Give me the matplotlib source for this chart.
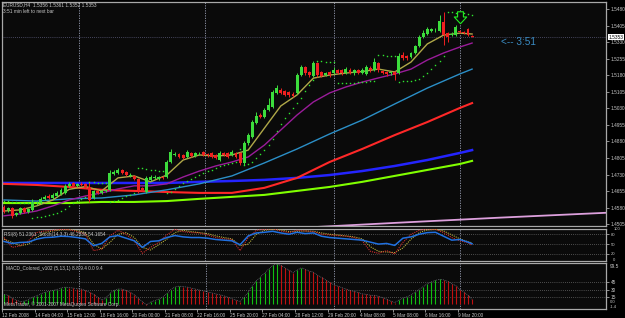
import matplotlib
matplotlib.use("Agg")
import matplotlib.pyplot as plt
import matplotlib.transforms as mtransforms
from matplotlib.path import Path
import numpy as np

plt.rcParams['font.family'] = ['Liberation Sans', 'DejaVu Sans']

W, H = 625, 318

# ---------------- data ----------------
symbol = "EURUSD,H4"
opens = [1.4583, 1.4570, 1.4579, 1.4547, 1.4556, 1.4579, 1.4561, 1.4570, 1.4601, 1.4601,
         1.4620, 1.4633, 1.4624, 1.4633, 1.4642, 1.4647, 1.4679, 1.4692, 1.4679, 1.4688,
         1.4688, 1.4674, 1.4624, 1.4656, 1.4647, 1.4656, 1.4661, 1.4733, 1.4737, 1.4751,
         1.4742, 1.4724, 1.4724, 1.4710, 1.4670, 1.4651, 1.4706, 1.4715, 1.4710, 1.4719,
         1.4719, 1.4787, 1.4819, 1.4823, 1.4819, 1.4810, 1.4828, 1.4814, 1.4823, 1.4832,
         1.4823, 1.4828, 1.4819, 1.4796, 1.4828, 1.4828, 1.4819, 1.4828, 1.4828, 1.4783,
         1.4873, 1.4900, 1.4964, 1.5000, 1.4991, 1.5023, 1.5036, 1.5100, 1.5113, 1.5109,
         1.5104, 1.5095, 1.5100, 1.5181, 1.5217, 1.5195, 1.5177, 1.5236, 1.5195, 1.5181,
         1.5195, 1.5190, 1.5204, 1.5204, 1.5190, 1.5204, 1.5190, 1.5204, 1.5190, 1.5186,
         1.5213, 1.5204, 1.5236, 1.5199, 1.5195, 1.5190, 1.5195, 1.5190, 1.5272, 1.5267,
         1.5263, 1.5281, 1.5312, 1.5353, 1.5367, 1.5381, 1.5385, 1.5381, 1.5421, 1.5371,
         1.5362, 1.5362, 1.5381, 1.5376, 1.5390, 1.5356]
highs = [1.4592, 1.4583, 1.4583, 1.4561, 1.4583, 1.4583, 1.4579, 1.4620, 1.4610, 1.4629,
         1.4638, 1.4642, 1.4647, 1.4656, 1.4670, 1.4688, 1.4697, 1.4697, 1.4692, 1.4697,
         1.4692, 1.4697, 1.4661, 1.4661, 1.4661, 1.4665, 1.4751, 1.4751, 1.4760, 1.4755,
         1.4746, 1.4737, 1.4728, 1.4715, 1.4674, 1.4724, 1.4728, 1.4728, 1.4724, 1.4724,
         1.4796, 1.4846, 1.4832, 1.4828, 1.4823, 1.4841, 1.4832, 1.4832, 1.4832, 1.4837,
         1.4828, 1.4832, 1.4823, 1.4837, 1.4832, 1.4832, 1.4841, 1.4832, 1.4832, 1.4882,
         1.4918, 1.4977, 1.5014, 1.5009, 1.5032, 1.5077, 1.5113, 1.5136, 1.5122, 1.5113,
         1.5109, 1.5104, 1.5190, 1.5226, 1.5222, 1.5199, 1.5245, 1.5240, 1.5199, 1.5195,
         1.5199, 1.5217, 1.5208, 1.5208, 1.5217, 1.5213, 1.5208, 1.5208, 1.5213, 1.5226,
         1.5222, 1.5258, 1.5240, 1.5204, 1.5199, 1.5199, 1.5199, 1.5281, 1.5285, 1.5272,
         1.5285, 1.5317, 1.5362, 1.5385, 1.5399, 1.5394, 1.5394, 1.5453, 1.5466, 1.5376,
         1.5376, 1.5408, 1.5385, 1.5381, 1.5394, 1.5361]
lows = [1.4556, 1.4561, 1.4534, 1.4543, 1.4552, 1.4556, 1.4556, 1.4565, 1.4592, 1.4597,
        1.4615, 1.4620, 1.4620, 1.4629, 1.4638, 1.4642, 1.4674, 1.4674, 1.4674, 1.4679,
        1.4670, 1.4606, 1.4620, 1.4642, 1.4642, 1.4651, 1.4656, 1.4728, 1.4733, 1.4733,
        1.4724, 1.4719, 1.4706, 1.4647, 1.4656, 1.4647, 1.4701, 1.4710, 1.4706, 1.4710,
        1.4715, 1.4783, 1.4814, 1.4805, 1.4801, 1.4805, 1.4810, 1.4810, 1.4819, 1.4814,
        1.4810, 1.4805, 1.4801, 1.4792, 1.4814, 1.4805, 1.4814, 1.4805, 1.4774, 1.4774,
        1.4864, 1.4896, 1.4959, 1.4987, 1.4987, 1.5018, 1.5032, 1.5095, 1.5095, 1.5086,
        1.5082, 1.5082, 1.5095, 1.5177, 1.5181, 1.5172, 1.5172, 1.5172, 1.5172, 1.5177,
        1.5172, 1.5186, 1.5186, 1.5181, 1.5186, 1.5186, 1.5181, 1.5186, 1.5186, 1.5181,
        1.5195, 1.5199, 1.5195, 1.5186, 1.5177, 1.5181, 1.5158, 1.5186, 1.5249, 1.5249,
        1.5258, 1.5276, 1.5308, 1.5349, 1.5362, 1.5376, 1.5376, 1.5376, 1.5317, 1.5331,
        1.5358, 1.5358, 1.5371, 1.5367, 1.5358, 1.5352]
closes = [1.4561, 1.4579, 1.4543, 1.4556, 1.4579, 1.4561, 1.4574, 1.4606, 1.4603, 1.4620,
          1.4629, 1.4624, 1.4638, 1.4647, 1.4661, 1.4679, 1.4688, 1.4679, 1.4688, 1.4683,
          1.4674, 1.4615, 1.4656, 1.4647, 1.4656, 1.4658, 1.4737, 1.4742, 1.4751, 1.4737,
          1.4728, 1.4728, 1.4710, 1.4661, 1.4661, 1.4715, 1.4719, 1.4717, 1.4719, 1.4715,
          1.4787, 1.4832, 1.4823, 1.4810, 1.4805, 1.4832, 1.4814, 1.4828, 1.4825, 1.4819,
          1.4819, 1.4810, 1.4805, 1.4828, 1.4819, 1.4810, 1.4832, 1.4810, 1.4783, 1.4873,
          1.4909, 1.4968, 1.4996, 1.4991, 1.5023, 1.5045, 1.5104, 1.5122, 1.5100, 1.5091,
          1.5091, 1.5086, 1.5181, 1.5217, 1.5190, 1.5181, 1.5236, 1.5181, 1.5177, 1.5190,
          1.5181, 1.5204, 1.5190, 1.5190, 1.5208, 1.5190, 1.5204, 1.5190, 1.5204, 1.5217,
          1.5204, 1.5240, 1.5204, 1.5190, 1.5186, 1.5195, 1.5181, 1.5267, 1.5258, 1.5258,
          1.5281, 1.5312, 1.5353, 1.5371, 1.5390, 1.5390, 1.5387, 1.5426, 1.5362, 1.5353,
          1.5367, 1.5399, 1.5376, 1.5371, 1.5362, 1.5353]

sar = [1.4610, 1.4610, 1.4606, 1.4606, 1.4601, 1.4601, 1.4601,
       1.4534, 1.4536, 1.4538, 1.4543, 1.4547, 1.4552, 1.4558, 1.4565, 1.4574, 1.4588, 1.4601, 1.4610, 1.4620, 1.4629,
       1.4697, 1.4697, 1.4694, 1.4692, 1.4690,
       1.4606, 1.4610, 1.4615, 1.4624, 1.4631, 1.4638, 1.4647,
       1.4760, 1.4758, 1.4755, 1.4753, 1.4751, 1.4748, 1.4746,
       1.4647, 1.4651, 1.4665, 1.4679, 1.4690, 1.4701, 1.4710, 1.4719, 1.4728, 1.4737, 1.4746, 1.4753,
       1.4760, 1.4767, 1.4774, 1.4778, 1.4783, 1.4787,
       1.4846,
       1.4774, 1.4778, 1.4787, 1.4805, 1.4823, 1.4841, 1.4864, 1.4891, 1.4927, 1.4959, 1.4986, 1.5009,
       1.5032, 1.5054, 1.5077, 1.5109, 1.5136, 1.5158,
       1.5245, 1.5243, 1.5242, 1.5240, 1.5239,
       1.5145, 1.5145, 1.5146, 1.5146, 1.5147, 1.5148, 1.5149, 1.5151, 1.5152, 1.5154,
       1.5272, 1.5270, 1.5269, 1.5267, 1.5266,
       1.5149, 1.5152, 1.5154, 1.5156, 1.5158, 1.5165, 1.5177, 1.5190, 1.5208, 1.5226, 1.5245, 1.5267,
       1.5466, 1.5465, 1.5464, 1.5462, 1.5460, 1.5457, 1.5455]

# moving averages, read every 4 / 8 bars
ma_fast_bars = list(range(0, 113, 4)) + [115]
ma_fast = [1.4565, 1.4570, 1.4588, 1.4615, 1.4663, 1.4676, 1.4656, 1.4715, 1.4724, 1.4697,
           1.4728, 1.4796, 1.4819, 1.4814, 1.4819, 1.4841, 1.4941, 1.5041, 1.5091, 1.5167,
           1.5181, 1.5190, 1.5197, 1.5208, 1.5195, 1.5240, 1.5322, 1.5362, 1.5371, 1.5367]
ma_mid = [1.4543, 1.4552, 1.4565, 1.4588, 1.4615, 1.4633, 1.4647, 1.4665, 1.4679, 1.4679,
          1.4688, 1.4719, 1.4746, 1.4769, 1.4787, 1.4810, 1.4864, 1.4932, 1.5000, 1.5059,
          1.5100, 1.5127, 1.5149, 1.5168, 1.5186, 1.5208, 1.5249, 1.5281, 1.5308, 1.5326]
ma_slow_bars = list(range(0, 113, 8)) + [115]
ma_steel = [1.4615, 1.4610, 1.4620, 1.4624, 1.4638, 1.4661, 1.4688, 1.4724, 1.4783, 1.4846,
            1.4914, 1.4977, 1.5050, 1.5122, 1.5186, 1.5208]
ma_red = [1.4688, 1.4683, 1.4674, 1.4661, 1.4656, 1.4651, 1.4647, 1.4647, 1.4670, 1.4715,
          1.4787, 1.4846, 1.4909, 1.4968, 1.5032, 1.5054]
ma_blue = [1.4692, 1.4692, 1.4692, 1.4692, 1.4692, 1.4692, 1.4697, 1.4701, 1.4706, 1.4715,
           1.4728, 1.4746, 1.4769, 1.4796, 1.4828, 1.4841]
ma_green = [1.4601, 1.4601, 1.4601, 1.4606, 1.4606, 1.4610, 1.4620, 1.4629, 1.4638, 1.4656,
            1.4674, 1.4697, 1.4724, 1.4751, 1.4778, 1.4792]
ma_pink_bars = [49, 73, 97, 122, 148]
ma_pink = [1.4467, 1.4489, 1.4512, 1.4535, 1.4557]

signal_bars = [112]
signal_prices = [1.5444]

# oscillators, read every 2 bars
osc_bars = list(range(0, 115, 2)) + [115]
rsi = [58, 52, 55, 56, 65, 70, 71, 74, 73, 70, 66, 45, 52, 72, 76, 68, 60, 40, 58, 60,
       70, 76, 72, 70, 70, 68, 64, 62, 60, 48, 75, 84, 86, 89, 84, 80, 86, 82, 84, 74,
       70, 68, 66, 64, 62, 56, 50, 52, 46, 68, 72, 80, 85, 86, 74, 62, 64, 56, 51]
stoch_k = [70, 40, 45, 60, 85, 90, 92, 95, 94, 88, 80, 30, 35, 75, 92, 80, 60, 22, 40, 55,
           78, 95, 88, 85, 84, 78, 70, 66, 64, 30, 70, 92, 95, 97, 90, 85, 92, 90, 88, 80,
           78, 76, 74, 70, 60, 28, 22, 30, 20, 55, 80, 92, 96, 95, 85, 70, 60, 54, 46]
stoch_d = [65, 55, 45, 50, 70, 85, 90, 93, 94, 91, 85, 50, 35, 55, 80, 85, 70, 40, 32, 48,
           65, 85, 92, 88, 85, 82, 75, 70, 66, 45, 50, 80, 92, 95, 93, 88, 89, 90, 89, 84,
           80, 78, 75, 72, 66, 42, 28, 26, 24, 38, 65, 85, 93, 95, 90, 78, 66, 57, 54]
rsi_levels = [80, 50, 20]

macd_hist = [20, 18, 12, 8, 5, 6, 9, 14, 17, 21,
             24, 26, 28, 30, 33, 35, 34, 33, 32, 31,
             28, 24, 20, 14, 8, 12, 22, 28, 31, 31,
             28, 24, 19, 12, 5, -2, 4, 7, 10, 14,
             22, 30, 35, 37, 36, 35, 33, 31, 29, 27,
             25, 23, 21, 19, 17, 14, 11, 8, 5, 14,
             25, 38, 48, 56, 64, 72, 80, 83, 80, 75,
             70, 65, 70, 75, 72, 68, 66, 60, 55, 50,
             45, 40, 37, 34, 31, 28, 26, 24, 21, 20,
             18, 18, 16, 13, 10, 6, 3, 8, 12, 15,
             19, 24, 30, 36, 42, 46, 49, 51, 50, 47,
             42, 38, 30, 25, 18, 10]
macd_levels = [45, 30, 15]

price_ticks = [1.5480, 1.5405, 1.5330, 1.5255, 1.5180, 1.5105, 1.5030, 1.4955,
               1.4880, 1.4805, 1.4730, 1.4655, 1.4580, 1.4505]
date_labels = ["12 Feb 2008", "14 Feb 04:00", "15 Feb 12:00", "18 Feb 16:00", "20 Feb 00:00",
               "21 Feb 08:00", "22 Feb 16:00", "25 Feb 20:00", "27 Feb 04:00", "28 Feb 12:00",
               "29 Feb 20:00", "4 Mar 08:00", "5 Mar 08:00", "6 Mar 16:00", "9 Mar 20:00"]
date_label_bars = list(range(0, 113, 8))
grid_bars = [18.5, 49.5, 81, 112]

# ---------------- figure ----------------
fig = plt.figure(figsize=(W / 100, H / 100), dpi=100, facecolor='#000000')


def box(x0, y0, x1, y1):
    return [x0 / W, 1 - y1 / H, (x1 - x0) / W, (y1 - y0) / H]


ax = fig.add_axes(box(2, 2, 606, 226))
ax_rsi = fig.add_axes(box(2, 229, 606, 260.5))
ax_macd = fig.add_axes(box(2, 262.5, 606, 309))

txt_col = '#c8c8c8'
small = 3.4
tiny = 3.0
for a in (ax, ax_rsi, ax_macd):
    a.set_facecolor('#0a0a0a')
    a.set_xlim(-0.49, 147.9)
    for s in a.spines.values():
        s.set_color('#a8a8a8')
        s.set_linewidth(0.9)
    a.yaxis.tick_right()
    a.tick_params(axis='y', colors=txt_col, labelsize=small, length=2, width=0.5,
                  pad=1.2, direction='out')
    for gx in grid_bars:
        a.axvline(gx, color='#9aa0b4', lw=0.6, ls=(0, (1.5, 1.5)), zorder=1)

# ---- main price panel ----
o = np.array(opens); h = np.array(highs); l = np.array(lows); c = np.array(closes)
x = np.arange(len(o))
ax.set_ylim(1.4497, 1.5512)
ax.set_xticks([])
ax.set_yticks(price_ticks)
ax.set_yticklabels([f"{p:.4f}" for p in price_ticks])

ax.axhline(c[-1], color='#5a5a7a', lw=0.6, ls=(0, (1, 1.5)), zorder=1)

ax.plot(ma_pink_bars, ma_pink, color='#dda0dd', lw=1.3, zorder=2)
ax.plot(ma_slow_bars, ma_green, color='#80ff00', lw=1.5, zorder=2)
ax.plot(ma_slow_bars, ma_blue, color='#2424ff', lw=1.8, zorder=2)
ax.plot(ma_slow_bars, ma_red, color='#ff2828', lw=1.5, zorder=2)
ax.plot(ma_slow_bars, ma_steel, color='#2b8fc7', lw=1.0, zorder=2)
ax.plot(ma_fast_bars, ma_mid, color='#9a1c9a', lw=1.0, zorder=2)
ax.plot(ma_fast_bars, ma_fast, color='#b0a848', lw=1.0, zorder=2)

bull = c >= o
col = np.where(bull, '#3cdc3c', '#f02020')
ax.vlines(x, l, h, colors=col, lw=0.7, zorder=5)
body = np.maximum(np.abs(c - o), 0.00015)
ax.bar(x, body, bottom=np.minimum(o, c), width=0.72, color=col, lw=0, zorder=6)

ax.plot(x, sar, ls='none', marker='s', ms=1.0, mfc='#2ee62e', mec='none', zorder=7)

verts = [(-0.28, 0.55), (0.28, 0.55), (0.28, 0.05), (0.6, 0.05), (0.0, -0.6),
         (-0.6, 0.05), (-0.28, 0.05), (-0.28, 0.55)]
codes = [Path.MOVETO] + [Path.LINETO] * 6 + [Path.CLOSEPOLY]
arrow = Path(verts, codes)
ax.plot(signal_bars, signal_prices, ls='none', marker=arrow, ms=9, mfc='#0a0a0a',
        mec='#22ee22', mew=0.8, zorder=8)

ax.text(122, 1.5333, "<-- 3:51", color='#3a8cc4', fontsize=7.2, va='center', ha='left')

trans = mtransforms.blended_transform_factory(ax.transAxes, ax.transData)
ax.text(1.004, c[-1], f"{c[-1]:.4f}", transform=trans, fontsize=small, color='black',
        va='center', ha='left', clip_on=False, zorder=10,
        bbox=dict(boxstyle='square,pad=0.15', fc='white', ec='none'))

fig.text(3 / W, 1 - 5 / H, f"{symbol}  {o[-1]:.4f} {h[-1]:.4f} {l[-1]:.4f} {c[-1]:.4f}",
         fontsize=small, color=txt_col, va='center', ha='left')
fig.text(3 / W, 1 - 11.5 / H, "3:51 min left to next bar", fontsize=small, color=txt_col,
         va='center', ha='left')

# ---- RSI / Stochastic panel ----
ax_rsi.set_ylim(0, 96)
ax_rsi.set_xticks([])
ax_rsi.set_yticks(rsi_levels)
ax_rsi.set_yticklabels([str(v) for v in rsi_levels])
ax_rsi.tick_params(axis='y', labelsize=tiny)
for lv in rsi_levels:
    ax_rsi.axhline(lv, color='#8c8c8c', lw=0.5, ls=(0, (1, 2)), zorder=1)
ax_rsi.plot(osc_bars, stoch_d, color='#b8b03c', lw=0.8, ls=(0, (1, 1)), zorder=3)
ax_rsi.plot(osc_bars, stoch_k, color='#d02c2c', lw=0.8, ls=(0, (1, 1)), zorder=3)
ax_rsi.plot(osc_bars, rsi, color='#2070e0', lw=1.1, zorder=4)
ax_rsi.text(1.012, 1.06, "100", transform=ax_rsi.transAxes, fontsize=tiny, color=txt_col,
            va='top', ha='left', clip_on=False)
ax_rsi.text(1.012, -0.06, "0", transform=ax_rsi.transAxes, fontsize=tiny, color=txt_col,
            va='bottom', ha='left', clip_on=False)
ax_rsi.text(0.004, 0.82, "RSI(8) 51.2361  Stoch(14,3,3) 46.2338 54.1654",
            transform=ax_rsi.transAxes, fontsize=small, color=txt_col, va='center', ha='left')

# ---- MACD panel ----
hist = np.array(macd_hist, dtype=float)
rising = np.r_[True, hist[1:] > hist[:-1]]
hcol = np.where(rising, '#10c010', '#c01010')
ax_macd.set_ylim(-10.4, 86)
ax_macd.set_yticks(macd_levels)
ax_macd.set_yticklabels([str(v) for v in macd_levels])
for lv in macd_levels:
    ax_macd.axhline(lv, color='#8c8c8c', lw=0.5, ls=(0, (1, 2)), zorder=1)
ax_macd.vlines(x, 0, hist, colors=hcol, lw=0.8, zorder=3)
ax_macd.plot(x, hist, color='#8a8a9a', lw=0.5, ls=(0, (1, 1.5)), zorder=4)
ax_macd.text(1.006, 0.97, "99.5", transform=ax_macd.transAxes, fontsize=small, color=txt_col,
             va='top', ha='left')
ax_macd.text(1.006, 0.15, "0.0", transform=ax_macd.transAxes, fontsize=tiny, color=txt_col,
             va='center', ha='left')
ax_macd.text(1.006, 0.05, "-1.4", transform=ax_macd.transAxes, fontsize=tiny, color=txt_col,
             va='center', ha='left')
ax_macd.text(0.006, 0.87, "MACD_Colored_v102 (5,13,1) 8.8 9.4 0.0 9.4",
             transform=ax_macd.transAxes, fontsize=small, color=txt_col, va='center', ha='left')
ax_macd.text(0.003, 0.1, "MetaTrader, \u00a9 2001-2007 MetaQuotes Software Corp.",
             transform=ax_macd.transAxes, fontsize=small, color=txt_col, va='center', ha='left')

ax_macd.set_xticks(np.array(date_label_bars) - 0.5)
ax_macd.set_xticklabels(date_labels)
for lbl in ax_macd.get_xticklabels():
    lbl.set_horizontalalignment('left')
ax_macd.tick_params(axis='x', colors=txt_col, labelsize=small, length=2, width=0.5, pad=1.0)

fig.savefig("out.png", dpi=100, facecolor=fig.get_facecolor())
